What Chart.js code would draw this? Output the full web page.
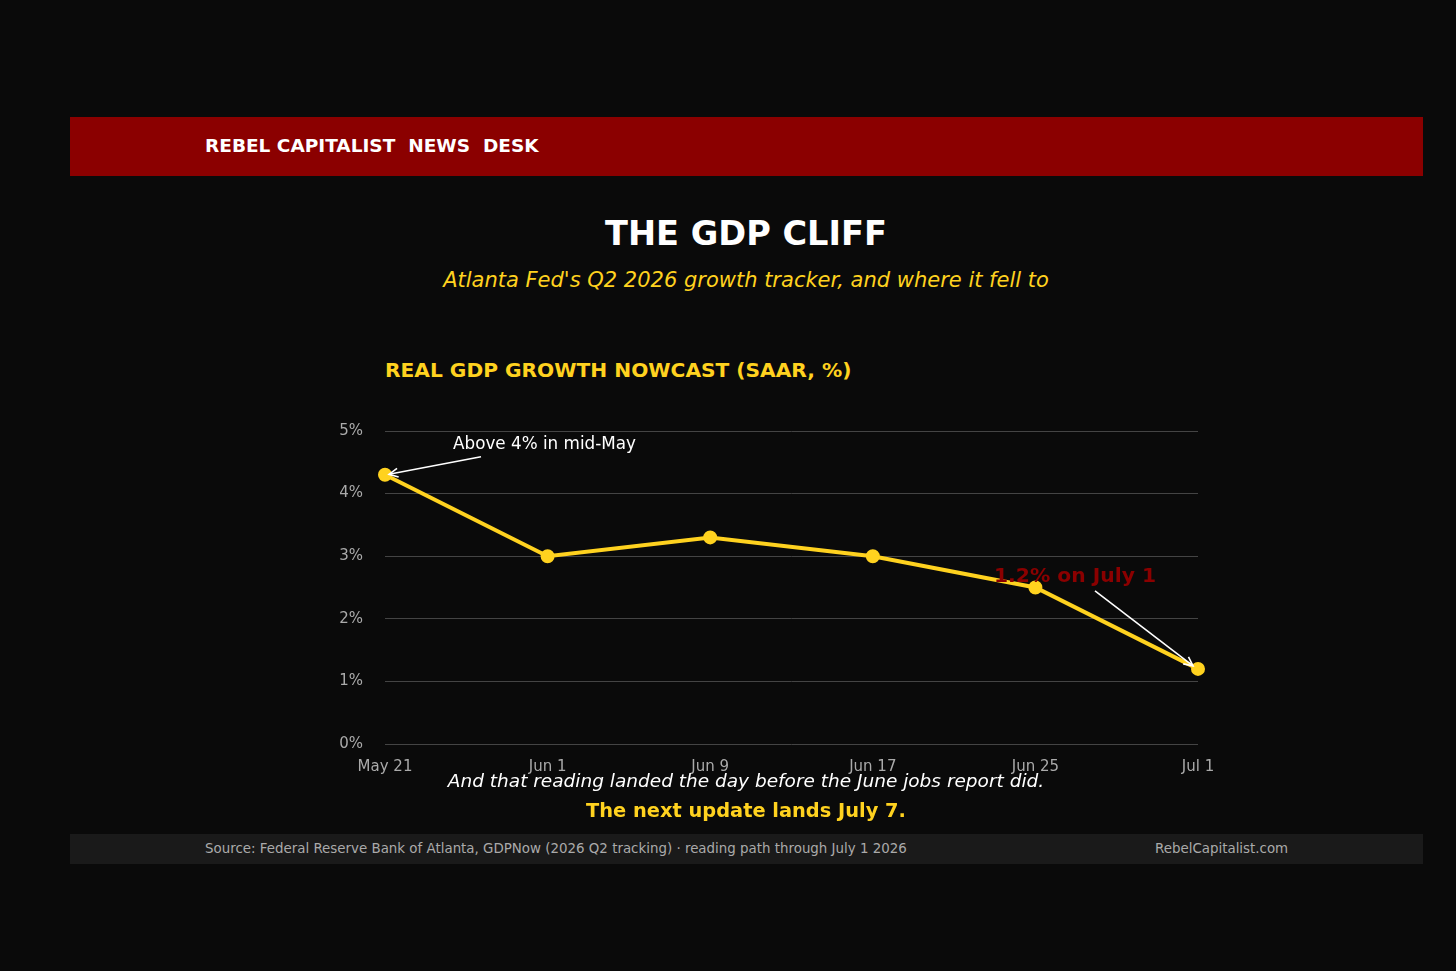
<!DOCTYPE html>
<html><head><meta charset="utf-8">
<script src="https://cdn.jsdelivr.net/npm/chart.js@4.4.1/dist/chart.umd.min.js"></script>
<style>
html,body{margin:0;padding:0;background:#0a0a0a;width:1456px;height:971px;overflow:hidden;font-family:"DejaVu Sans",sans-serif;}
.abs{position:absolute;}
#hdr{left:70px;top:117px;width:1353px;height:59px;background:#8b0000;}
#hdrt{left:205px;top:135px;color:#fff;font-weight:bold;font-size:18.5px;white-space:pre;line-height:21px;}
#title{left:0;width:1492px;top:214px;text-align:center;color:#fff;font-weight:bold;font-size:33.6px;line-height:40px;}
#sub{left:0;width:1492px;top:267px;text-align:center;color:#FFD21F;font-style:italic;font-size:21px;line-height:27px;}
#ctitle{left:385px;top:358px;color:#FFD21F;font-weight:bold;font-size:20.2px;line-height:24px;}
#wrap{left:320px;top:400px;width:920px;height:384px;}
#note1{left:0;width:1492px;top:769px;text-align:center;color:#fff;font-style:italic;font-size:18.5px;line-height:24px;}
#note2{left:0;width:1492px;top:799px;text-align:center;color:#FFD21F;font-weight:bold;font-size:19.4px;line-height:24px;}
#ftr{left:70px;top:834px;width:1353px;height:30px;background:#1a1a1a;}
#src{left:205px;top:840px;color:#aaaaaa;font-size:13.4px;line-height:18px;}
#site{left:1155px;top:840px;color:#aaaaaa;font-size:13.4px;line-height:18px;}
</style></head>
<body>
<div id="hdr" class="abs"></div>
<div id="hdrt" class="abs">REBEL CAPITALIST  NEWS  DESK</div>
<div id="title" class="abs">THE GDP CLIFF</div>
<div id="sub" class="abs">Atlanta Fed's Q2 2026 growth tracker, and where it fell to</div>
<div id="ctitle" class="abs">REAL GDP GROWTH NOWCAST (SAAR, %)</div>
<div id="wrap" class="abs"><canvas id="c" width="920" height="384"></canvas></div>
<div id="note1" class="abs">And that reading landed the day before the June jobs report did.</div>
<div id="note2" class="abs">The next update lands July 7.</div>
<div id="ftr" class="abs"></div>
<div id="src" class="abs">Source: Federal Reserve Bank of Atlanta, GDPNow (2026 Q2 tracking) · reading path through July 1 2026</div>
<div id="site" class="abs">RebelCapitalist.com</div>
<script>
const categories = ["May 21", "Jun 1", "Jun 9", "Jun 17", "Jun 25", "Jul 1"];
const gdpNowcast = [4.3, 3.0, 3.3, 3.0, 2.5, 1.2];
const yTicks = [0, 1, 2, 3, 4, 5];

function arrow(ctx, x1, y1, x2, y2) {
  ctx.save();
  ctx.strokeStyle = '#ffffff';
  ctx.lineWidth = 1.6;
  ctx.beginPath(); ctx.moveTo(x1, y1); ctx.lineTo(x2, y2); ctx.stroke();
  const a = Math.atan2(y2 - y1, x2 - x1), L = 10, w = 0.45;
  ctx.beginPath();
  ctx.moveTo(x2 - L * Math.cos(a - w), y2 - L * Math.sin(a - w));
  ctx.lineTo(x2, y2);
  ctx.lineTo(x2 - L * Math.cos(a + w), y2 - L * Math.sin(a + w));
  ctx.stroke();
  ctx.restore();
}

const annot = {
  id: 'annot',
  afterDatasetsDraw(chart) {
    const ctx = chart.ctx, x = chart.scales.x, y = chart.scales.y;
    const p0x = x.getPixelForValue(0), p0y = y.getPixelForValue(gdpNowcast[0]);
    ctx.save();
    ctx.fillStyle = '#ffffff';
    ctx.font = '16.8px "DejaVu Sans"';
    ctx.textBaseline = 'middle';
    ctx.fillText('Above 4% in mid-May', p0x + 68, p0y - 30);
    arrow(ctx, p0x + 96, p0y - 18, p0x + 4, p0y - 0.5);
    const n = gdpNowcast.length - 1;
    const pnx = x.getPixelForValue(n), pny = y.getPixelForValue(gdpNowcast[n]);
    ctx.fillStyle = '#8b0000';
    ctx.font = 'bold 20.3px "DejaVu Sans"';
    ctx.fillText('1.2% on July 1', pnx - 204, pny - 92);
    arrow(ctx, pnx - 103, pny - 78, pnx - 5, pny - 3);
    ctx.restore();
  }
};

new Chart(document.getElementById('c'), {
  type: 'line',
  data: {
    labels: categories,
    datasets: [{
      data: gdpNowcast,
      borderColor: '#FFD21F',
      backgroundColor: '#FFD21F',
      borderWidth: 4,
      pointRadius: 5,
      pointHoverRadius: 5,
      pointBackgroundColor: '#FFD21F',
      pointBorderColor: '#FFD21F',
      tension: 0,
      fill: false
    }]
  },
  options: {
    responsive: false,
    animation: false,
    devicePixelRatio: 1,
    layout: { padding: { left: 0, right: 42, top: 30, bottom: 0 } },
    plugins: { legend: { display: false }, tooltip: { enabled: false } },
    scales: {
      x: {
        type: 'category',
        offset: false,
        grid: { display: false, drawTicks: false },
        border: { display: false },
        ticks: { color: '#aaaaaa', font: { family: 'DejaVu Sans', size: 15 }, padding: 14, maxRotation: 0, autoSkip: false },
        afterFit(s) { s.height = 40; }
      },
      y: {
        min: 0, max: 5,
        afterBuildTicks(s) { s.ticks = yTicks.map(v => ({ value: v })); },
        grid: { color: '#444444', lineWidth: 1, drawTicks: false },
        border: { display: false },
        ticks: { color: '#aaaaaa', font: { family: 'DejaVu Sans', size: 15 }, padding: 22, callback: v => v + '%' },
        afterFit(s) { s.width = 65; }
      }
    }
  },
  plugins: [annot]
});
</script>
</body></html>
